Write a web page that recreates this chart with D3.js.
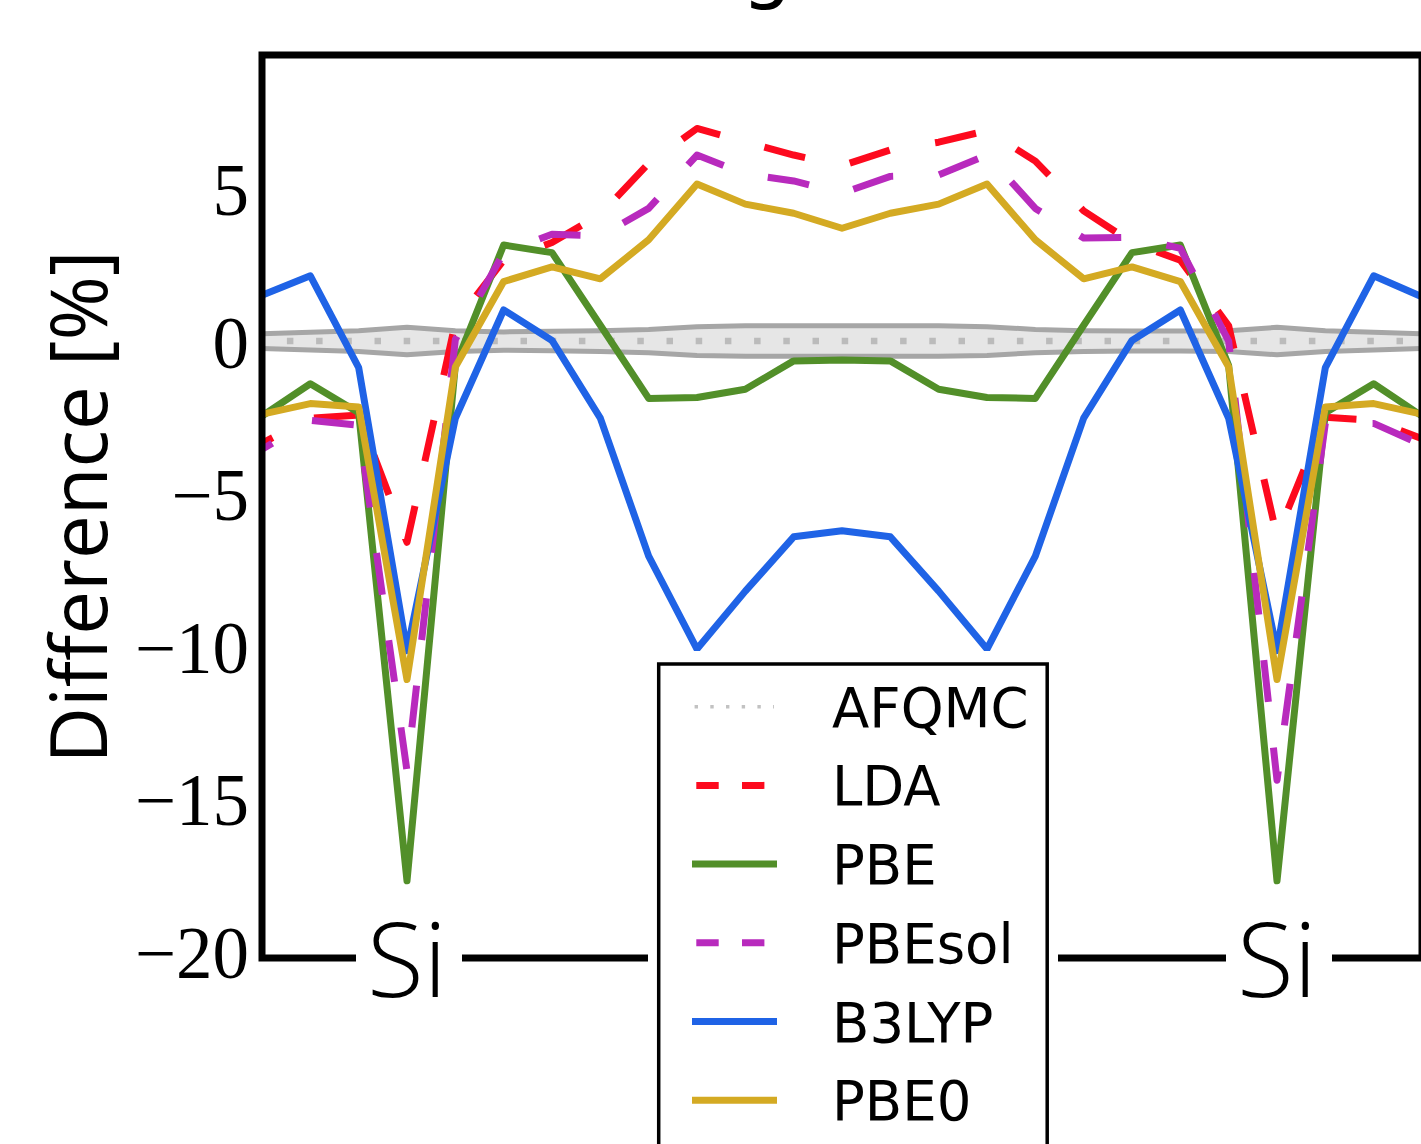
<!DOCTYPE html>
<html>
<head>
<meta charset="utf-8">
<script src="https://cdn.jsdelivr.net/npm/d3@7"></script>
<style>
  html, body { margin: 0; padding: 0; background: #fff; overflow: hidden; }
  svg { display: block; }
</style>
</head>
<body>
<svg id="chart" width="1421" height="1144"></svg>
<script>
// Sample points along the path between the two Si sites (index along the cut)
const positions = [0, 1, 2, 3, 4, 5, 6, 7, 8, 9, 10, 11, 12, 13, 14, 15, 16, 17, 18, 19, 20, 21, 22, 23, 24];
const siSites = [3, 21];
const siLabels = ["Si", "Si"];
const yTicks = [5, 0, -5, -10, -15, -20];

// Differences relative to AFQMC, in percent
const afqmc    = [0, 0, 0, 0, 0, 0, 0, 0, 0, 0, 0, 0, 0, 0, 0, 0, 0, 0, 0, 0, 0, 0, 0, 0, 0];
const afqmcErr = [0.24, 0.29, 0.34, 0.45, 0.34, 0.30, 0.32, 0.34, 0.38, 0.47, 0.50, 0.50, 0.50, 0.50, 0.50, 0.47, 0.38, 0.34, 0.33, 0.33, 0.34, 0.45, 0.34, 0.29, 0.24];
const lda      = [-3.35, -2.53, -2.43, -6.6, 0.6, 2.65, 3.23, 4.15, 5.83, 6.97, 6.53, 6.1, 5.75, 6.27, 6.52, 6.9, 5.9, 4.27, 3.23, 2.65, 0.5, -6.4, -2.5, -2.6, -3.2];
const pbe      = [-2.46, -1.4, -2.35, -17.7, -0.8, 3.15, 2.9, 0.52, -1.88, -1.85, -1.58, -0.65, -0.62, -0.65, -1.58, -1.85, -1.88, 0.52, 2.9, 3.15, -0.8, -17.7, -2.35, -1.4, -2.46];
const pbesol   = [-3.55, -2.6, -2.76, -14.1, 0.05, 2.9, 3.5, 3.45, 4.35, 6.1, 5.48, 5.25, 4.85, 5.4, 5.45, 6.1, 4.35, 3.38, 3.4, 3.04, 0.0, -14.4, -2.7, -2.7, -3.4];
const b3lyp    = [1.5, 2.14, -0.87, -10.15, -2.53, 1.02, 0.02, -2.53, -7.05, -10.1, -8.2, -6.42, -6.22, -6.42, -8.2, -10.1, -7.05, -2.53, 0.02, 1.02, -2.53, -10.15, -0.87, 2.14, 1.45];
const pbe0     = [-2.4, -2.05, -2.16, -11.1, -0.85, 1.95, 2.43, 2.04, 3.32, 5.15, 4.49, 4.19, 3.7, 4.19, 4.49, 5.15, 3.32, 2.04, 2.43, 1.95, -0.85, -11.1, -2.16, -2.05, -2.4];

const seriesNames  = ["LDA", "PBE", "PBEsol", "B3LYP", "PBE0"];
const seriesValues = [lda, pbe, pbesol, b3lyp, pbe0];
const seriesColors = ["#fd0a1e", "#528f29", "#b82abd", "#1f63e6", "#d4aa23"];
const seriesDashed = [true, false, true, false, false];

const svg = d3.select("#chart");

const x = d3.scaleLinear().domain([0, 24]).range([262, 1422]);
const y = d3.scaleLinear().domain([-20.23, 9.38]).range([958, 55]);

// Clip region = axes rectangle
svg.append("defs").append("clipPath").attr("id", "plotClip")
  .append("rect")
  .attr("x", x(0)).attr("y", y(9.38))
  .attr("width", x(24) - x(0)).attr("height", y(-20.23) - y(9.38));

const plot = svg.append("g").attr("clip-path", "url(#plotClip)");

// AFQMC uncertainty band
const band = d3.area()
  .x((d, i) => x(positions[i]))
  .y0((d, i) => y(afqmc[i] - afqmcErr[i]))
  .y1((d, i) => y(afqmc[i] + afqmcErr[i]));
plot.append("path").datum(afqmc).attr("d", band).attr("fill", "#e6e6e6");

const bandEdge = sign => d3.line()
  .x((d, i) => x(positions[i]))
  .y((d, i) => y(afqmc[i] + sign * afqmcErr[i]));
[1, -1].forEach(s => {
  plot.append("path").datum(afqmc)
    .attr("d", bandEdge(s))
    .attr("fill", "none")
    .attr("stroke", "#a6a6a6")
    .attr("stroke-width", 5)
    .attr("stroke-linejoin", "round");
});

// AFQMC reference (dotted)
const line = vals => d3.line().x((d, i) => x(positions[i])).y((d, i) => y(vals[i]))(vals);
plot.append("path")
  .attr("d", line(afqmc))
  .attr("fill", "none")
  .attr("stroke", "#bbbbbb")
  .attr("stroke-width", 6.5)
  .attr("stroke-dasharray", "6.5 22.7")
  .attr("stroke-dashoffset", 4.3);

// Functional curves
seriesValues.forEach((vals, k) => {
  const p = plot.append("path")
    .attr("d", line(vals))
    .attr("fill", "none")
    .attr("stroke", seriesColors[k])
    .attr("stroke-width", 7)
    .attr("stroke-linejoin", "round");
  if (seriesDashed[k]) {
    p.attr("stroke-dasharray", "42 46").attr("stroke-dashoffset", 30);
  } else {
    p.attr("stroke-linecap", "square");
  }
});

// Axes frame
svg.append("rect")
  .attr("x", x(0)).attr("y", y(9.38))
  .attr("width", x(24) - x(0)).attr("height", y(-20.23) - y(9.38))
  .attr("fill", "none").attr("stroke", "#000").attr("stroke-width", 7);

// Y axis tick labels
const yAxis = d3.axisLeft(y)
  .tickValues(yTicks)
  .tickSize(0)
  .tickPadding(0)
  .tickFormat(d => d < 0 ? "\u2212" + (-d) : String(d));
const gy = svg.append("g").attr("transform", "translate(249,0)").call(yAxis);
gy.select(".domain").remove();
gy.attr("font-family", "'Liberation Serif', 'Times New Roman', serif").attr("font-size", 73);
gy.selectAll("text").attr("fill", "#000").attr("dy", "0.36em");

// Y axis title
svg.append("text")
  .attr("transform", "translate(107,507) rotate(-90)")
  .attr("text-anchor", "middle")
  .attr("font-family", "'Open Sans', sans-serif")
  .attr("font-size", 78)
  .attr("fill", "#000")
  .text("Difference [%]");

// Title (mostly above the visible area)
svg.append("text")
  .attr("x", 767).attr("y", -7)
  .attr("text-anchor", "middle")
  .attr("font-family", "'DejaVu Sans', sans-serif")
  .attr("font-size", 80)
  .attr("fill", "#000")
  .text("g");

// Atom-site labels on the x axis
siSites.forEach((s, k) => {
  svg.append("rect")
    .attr("x", x(s) + 2 - 53).attr("y", 915)
    .attr("width", 106).attr("height", 90)
    .attr("fill", "#fff");
  svg.append("text")
    .attr("x", x(s)).attr("y", 997)
    .attr("text-anchor", "middle")
    .attr("font-family", "'Open Sans', sans-serif")
    .attr("font-weight", 300)
    .attr("font-size", 104)
    .attr("fill", "#000")
    .text(siLabels[k]);
});

// Legend
const legendNames  = ["AFQMC"].concat(seriesNames);
const legendColors = ["#c2c2c2"].concat(seriesColors);
const legend = svg.append("g");
legend.append("rect")
  .attr("x", 648).attr("y", 651).attr("width", 410).attr("height", 600)
  .attr("fill", "#fff");
legend.append("rect")
  .attr("x", 658.7).attr("y", 664).attr("width", 388.5).attr("height", 600)
  .attr("fill", "#fff").attr("stroke", "#000").attr("stroke-width", 3.5);

legendNames.forEach((name, k) => {
  const ly = 706.7 + k * 78.7;
  const h = legend.append("line")
    .attr("y1", ly).attr("y2", ly)
    .attr("stroke", legendColors[k]);
  if (k === 0) {
    h.attr("x1", 694.6).attr("x2", 774).attr("stroke-width", 3.4)
      .attr("stroke-dasharray", "3.4 12.3");
  } else if (seriesDashed[k - 1]) {
    h.attr("x1", 696.3).attr("x2", 764.5).attr("stroke-width", 7)
      .attr("stroke-dasharray", "22.4 23.3");
  } else {
    h.attr("x1", 692).attr("x2", 777).attr("stroke-width", 7);
  }
  legend.append("text")
    .attr("x", 832).attr("y", ly + 20)
    .attr("font-family", "'DejaVu Sans', sans-serif")
    .attr("font-size", 54.5)
    .attr("fill", "#000")
    .text(name);
});
</script>
</body>
</html>
